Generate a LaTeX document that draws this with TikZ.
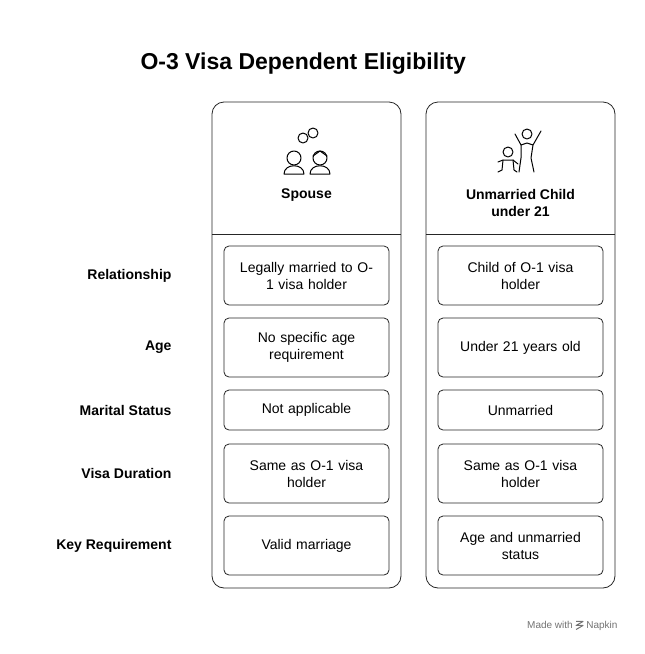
\documentclass[tikz,border=0pt]{standalone}
\usepackage{fontspec}
\setmainfont{Liberation Sans}
\begin{document}
\begin{tikzpicture}[x=1pt,y=-1pt,
 panel/.style={draw=black!85,line width=0.8pt,rounded corners=12pt},
 cell/.style={draw=black!85,line width=0.8pt,rounded corners=5pt,align=center,font=\fontsize{14}{17}\selectfont,text width=158pt,inner sep=3.5pt},
 rowlab/.style={anchor=east,font=\bfseries\fontsize{14}{17}\selectfont},
 icon/.style={line width=1pt,line cap=round,line join=round}]
\useasboundingbox (0,0) rectangle (645,654);
\fill[white] (0,0) rectangle (645,654);
\node[anchor=west,font=\bfseries\fontsize{23}{27}\selectfont] (title) at (137,64) {O-3 Visa Dependent Eligibility};
\draw[panel] (212,102) rectangle (401,588);
\draw[panel] (426,102) rectangle (615,588);
\draw[line width=0.8pt,black!85] (212,234) -- (401,234);
\draw[line width=0.8pt,black!85] (426,234) -- (615,234);
\node[font=\bfseries\fontsize{14}{17}\selectfont,align=center] (h1) at (306.5,195) {Spouse};
\node[font=\bfseries\fontsize{14}{17}\selectfont,align=center] (h2) at (520.5,203) {Unmarried Child\\under 21};
% spouse icon
\begin{scope}[icon]
\draw (303,138) circle (5); \draw (313,133) circle (5);
\draw (294,158) circle (7); \draw (284,174) .. controls (284,163) and (304,163) .. (304,174) -- cycle;
\draw (320,158) circle (7); \draw (310,174) .. controls (310,163) and (330,163) .. (330,174) -- cycle;
\draw (313,156) -- (320,151) -- (327,156);
\end{scope}
% child icon
\begin{scope}[icon]
\draw (527,134) circle (5);
\draw (515,134) -- (521,145) -- (527,143) -- (533,145) -- (541,131);
\draw (521,145) -- (521,158) -- (519,172); \draw (533,145) -- (531,158) -- (534,172);
\draw (508,152) circle (5);
\draw (498,162) -- (503,160) -- (513,160) -- (518,164);
\draw (503,160) -- (502,170) -- (498,172); \draw (513,160) -- (514,170) -- (517,172);
\end{scope}
\foreach \n/\y/\lab in {r1/275.5/Relationship,r2/347.5/Age,r3/410/Marital Status,r4/473.5/Visa Duration,r5/545.5/Key Requirement}{
 \node[rowlab] (\n) at (175,\y) {\lab};
}
\node[cell,minimum height=59pt] (a1) at (306.5,275.5) {Legally married to O-\\1 visa holder};
\node[cell,minimum height=59pt] (a2) at (306.5,347.5) {No specific age\\requirement};
\node[cell,minimum height=40pt] (a3) at (306.5,410) {Not applicable};
\node[cell,minimum height=59pt] (a4) at (306.5,473.5) {Same as O-1 visa\\holder};
\node[cell,minimum height=59pt] (a5) at (306.5,545.5) {Valid marriage};
\node[cell,minimum height=59pt] (b1) at (520.5,275.5) {Child of O-1 visa\\holder};
\node[cell,minimum height=59pt] (b2) at (520.5,347.5) {Under 21 years old};
\node[cell,minimum height=40pt] (b3) at (520.5,410) {Unmarried};
\node[cell,minimum height=59pt] (b4) at (520.5,473.5) {Same as O-1 visa\\holder};
\node[cell,minimum height=59pt] (b5) at (520.5,545.5) {Age and unmarried\\status};
\node[anchor=east,text=black!55,font=\fontsize{10}{12}\selectfont] (foot) at (621,626) {Made with \tikz[x=1pt,y=1pt,baseline=0pt]\draw[black!55,line width=1pt,line join=round] (0,7.5)--(7,7.5)--(0,3.5)--(7,3.5)--(0,-0.5); Napkin};
\end{tikzpicture}
\end{document}
